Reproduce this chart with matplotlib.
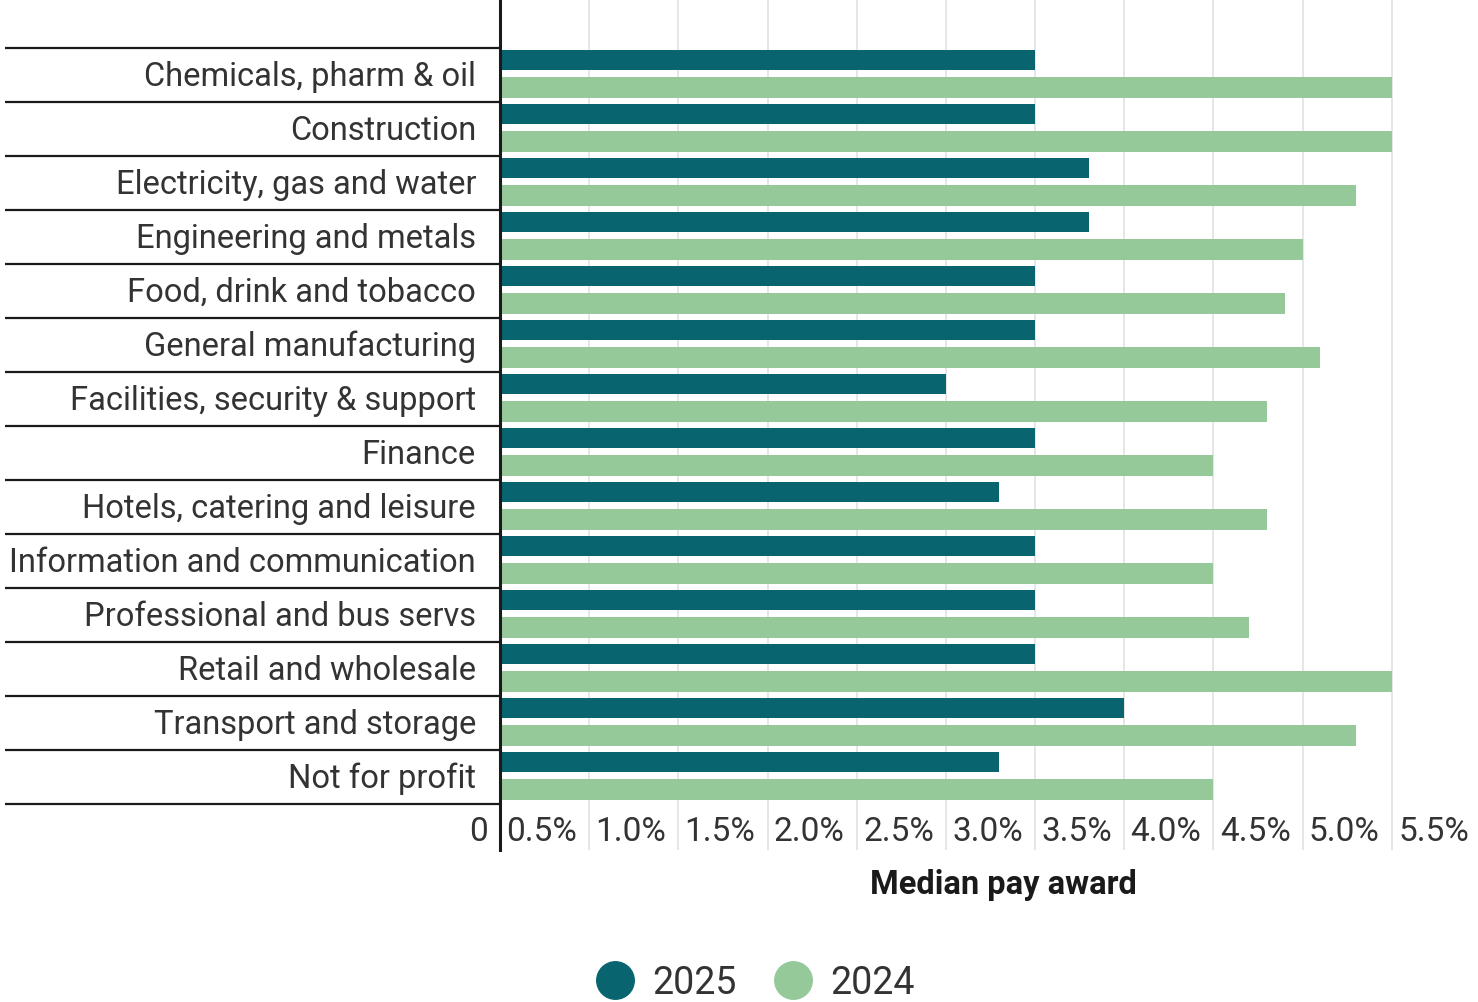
import matplotlib
matplotlib.use("Agg")
import matplotlib.pyplot as plt
import matplotlib.transforms as mtransforms
from matplotlib.lines import Line2D
import numpy as np

plt.rcParams['font.family'] = ['Roboto', 'DejaVu Sans']

# median pay award by sector, %
sectors = [
    "Chemicals, pharm & oil",
    "Construction",
    "Electricity, gas and water",
    "Engineering and metals",
    "Food, drink and tobacco",
    "General manufacturing",
    "Facilities, security & support",
    "Finance",
    "Hotels, catering and leisure",
    "Information and communication",
    "Professional and bus servs",
    "Retail and wholesale",
    "Transport and storage",
    "Not for profit",
]
award_2025 = [3.0, 3.0, 3.3, 3.3, 3.0, 3.0, 2.5, 3.0, 2.8, 3.0, 3.0, 3.0, 3.5, 2.8]
award_2024 = [5.0, 5.0, 4.8, 4.5, 4.4, 4.6, 4.3, 4.0, 4.3, 4.0, 4.2, 5.0, 4.8, 4.0]
xticks = [0, 0.5, 1.0, 1.5, 2.0, 2.5, 3.0, 3.5, 4.0, 4.5, 5.0, 5.5]
xtick_labels = ["0", "0.5%", "1.0%", "1.5%", "2.0%", "2.5%", "3.0%", "3.5%",
                "4.0%", "4.5%", "5.0%", "5.5%"]

DARK = "#08656f"
LIGHT = "#96c999"
TEXT = "#333333"

W, H = 1478, 1003
fig = plt.figure(figsize=(W / 100, H / 100), dpi=100)
ax = fig.add_axes([500 / W, 1 - 851 / H, 981 / W, 851 / H])

idx = np.arange(len(sectors))
ax.barh(idx - 0.278, award_2025, height=0.37, color=DARK, zorder=3)
ax.barh(idx + 0.231, award_2024, height=0.39, color=LIGHT, zorder=3)

ax.set_xlim(0, 5.5)
ax.set_ylim(14.352, -1.407)

# gridlines
for t in xticks[1:]:
    ax.axvline(t, color="#e2e2e2", lw=1.2, zorder=1)

for s in ["top", "right", "bottom"]:
    ax.spines[s].set_visible(False)
ax.spines["left"].set_color("#1a1a1a")
ax.spines["left"].set_linewidth(2.2)
ax.spines["left"].set_zorder(4)
ax.set_xticks([])
ax.set_yticks([])

# row separators and sector names to the left of the axis
row_tr = mtransforms.blended_transform_factory(ax.transAxes, ax.transData)
for k in range(len(sectors) + 1):
    ax.plot([-495 / 981, 0], [k - 0.5, k - 0.5], transform=row_tr,
            color="#1a1a1a", lw=1.6, clip_on=False, solid_capstyle="butt")
for i, name in enumerate(sectors):
    ax.text(-24 / 981, i + 0.02, name, transform=row_tr, ha="right", va="center",
            fontsize=23.5, color=TEXT)

# tick labels sit just left of each gridline, inside the plot area
tick_tr = mtransforms.offset_copy(
    mtransforms.blended_transform_factory(ax.transData, ax.transAxes),
    fig=fig, x=-12, y=0, units="dots")
for t, lab in zip(xticks, xtick_labels):
    ax.text(t, 19 / 851, lab, transform=tick_tr, ha="right", va="center",
            fontsize=24, color=TEXT, clip_on=False)

fig.text(1003 / W, 1 - 885 / H, "Median pay award", ha="center", va="center",
         fontsize=23.5, fontweight="bold", color="#1a1a1a")

handles = [
    Line2D([], [], marker="o", ls="", markersize=27, color=DARK),
    Line2D([], [], marker="o", ls="", markersize=27, color=LIGHT),
]
fig.legend(handles, ["2025", "2024"], loc="center",
           bbox_to_anchor=(746 / W, 1 - 984 / H), ncol=2, frameon=False,
           fontsize=27, handletextpad=0.0, columnspacing=0.5,
           labelcolor=TEXT, borderaxespad=0, borderpad=0)

fig.savefig("out.png", dpi=100)
